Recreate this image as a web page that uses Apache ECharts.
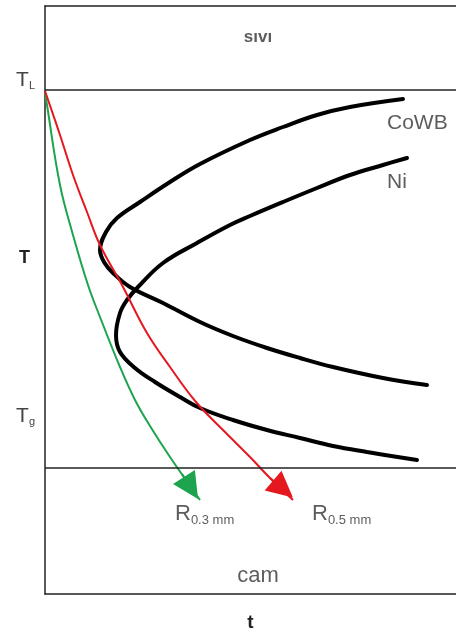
<!DOCTYPE html>
<html>
<head>
<meta charset="utf-8">
<script src="https://cdn.jsdelivr.net/npm/echarts@6/dist/echarts.min.js"></script>
<style>
  html, body { margin: 0; padding: 0; background: #fff; }
  #chart { width: 456px; height: 633px; }
</style>
</head>
<body>
<div id="chart"></div>
<script>
// ---- data (t, T) in arbitrary units ----
const cowbCurve = [
  [358,495],[305,487],[272,479],[238,467],[205,454],[155,430],[125,412],[95,392],
  [72,376],[61,362],[55,344],[59,332],[68,321],[85,307],[118,291],[155,272],
  [188,258],[222,246],[255,236],[288,227],[338,216],[382,209]
];
const niCurve = [
  [362,436],[338,429],[305,419],[272,406],[238,392],[205,378],[185,369],[152,351],
  [118,331],[93,307],[82,294],[75,281],[71,259],[75,242],[90,226],[110,212],
  [135,197],[155,186],[188,174],[222,164],[255,156],[288,148],[322,142],[372,134]
];
const coolRed = [
  [0,503],[15,459],[28,419],[42,382],[55,349],[78,307],[102,261],[125,227],
  [151,192],[180,162],[205,137],[225,116],[248,94]
];
const coolGreen = [
  [0,502],[2,489],[15,409],[28,359],[43,309],[55,277],[75,227],[90,194],
  [105,168],[125,137],[155,94]
];
const arrowRed = [[225,116],[238,105]];
const arrowGreen = [[137,120],[146,106]];

const levelTL = 504;       // liquidus line
const levelGlass = 126;    // glass boundary line
const yTickValues = [514, 336, 178];
const yTickLabels = ['T_L', 'T', 'T_g'];

const regionLabels = ['sıvı', 'cam'];
const curveLabels = ['CoWB', 'Ni'];
const rateLabels = ['0.3 mm', '0.5 mm'];
const xName = 't';

const FONT = 'Liberation Sans, Arial, sans-serif';
const RED = '#e5171f';
const GREEN = '#1ea34f';

const chart = echarts.init(document.getElementById('chart'), null, { renderer: 'canvas' });

function labelFmt(v) {
  const i = yTickValues.indexOf(v);
  const s = yTickLabels[i];
  if (s === 'T') return '{b|T}';
  const parts = s.split('_');
  return '{m|' + parts[0] + '}{s|' + parts[1] + '}';
}

const annotations = [
  { value: [213, 557], label: { formatter: regionLabels[0], fontSize: 17, fontWeight: 'bold', color: '#333', align: 'center' } },
  { value: [213, 18], label: { formatter: regionLabels[1], fontSize: 22, color: '#333', align: 'center' } },
  { value: [342, 471], label: { formatter: curveLabels[0], fontSize: 21, color: '#333', align: 'left' } },
  { value: [342, 412], label: { formatter: curveLabels[1], fontSize: 21, color: '#333', align: 'left' } },
  { value: [130, 80], label: { formatter: '{r|R}{s|' + rateLabels[0] + '}', align: 'left' } },
  { value: [267, 80], label: { formatter: '{r|R}{s|' + rateLabels[1] + '}', align: 'left' } }
];

const axisLine = { show: true, lineStyle: { color: '#222', width: 1.5 } };

chart.setOption({
  animation: false,
  backgroundColor: '#fff',
  grid: { left: 45, right: 0, top: 6, bottom: 39, containLabel: false, outerBoundsMode: 'none' },
  xAxis: [
    {
      type: 'value', min: 0, max: 411, position: 'bottom',
      axisLine: axisLine, axisTick: { show: false }, axisLabel: { show: false }, splitLine: { show: false },
      name: xName, nameLocation: 'middle', nameGap: 19,
      nameTextStyle: { fontFamily: FONT, fontSize: 19, fontWeight: 'bold', color: '#222' }
    },
    {
      type: 'value', min: 0, max: 411, position: 'top',
      axisLine: axisLine, axisTick: { show: false }, axisLabel: { show: false }, splitLine: { show: false }
    }
  ],
  yAxis: {
    type: 'value', min: 0, max: 588,
    axisLine: axisLine, axisTick: { show: false }, splitLine: { show: false },
    axisLabel: {
      show: true, customValues: yTickValues, margin: 10, formatter: labelFmt,
      rich: {
        m: { fontFamily: FONT, fontSize: 21, color: '#444' },
        s: { fontFamily: FONT, fontSize: 11, color: '#444', padding: [12, 0, 0, 0] },
        b: { fontFamily: FONT, fontSize: 18, fontWeight: 'bold', color: '#222', padding: [0, 5, 0, 0] }
      }
    }
  },
  series: [
    {
      type: 'line', data: [], xAxisIndex: 0,
      markLine: {
        silent: true, symbol: 'none', label: { show: false },
        lineStyle: { color: '#222', width: 1.5, type: 'solid' },
        data: [{ yAxis: levelTL }, { yAxis: levelGlass }]
      }
    },
    { type: 'line', data: cowbCurve, smooth: 0.4, symbol: 'none', lineStyle: { color: '#000', width: 4, cap: 'round' } },
    { type: 'line', data: niCurve, smooth: 0.4, symbol: 'none', lineStyle: { color: '#000', width: 4, cap: 'round' } },
    { type: 'line', data: coolGreen, smooth: 0.4, symbol: 'none', lineStyle: { color: GREEN, width: 2 } },
    { type: 'line', data: coolRed, smooth: 0.4, symbol: 'none', lineStyle: { color: RED, width: 2 } },
    {
      type: 'lines', coordinateSystem: 'cartesian2d', symbol: ['none', 'triangle'], symbolSize: [16, 26],
      lineStyle: { color: GREEN, width: 2, opacity: 1 },
      data: [{ coords: arrowGreen }]
    },
    {
      type: 'lines', coordinateSystem: 'cartesian2d', symbol: ['none', 'triangle'], symbolSize: [16, 26],
      lineStyle: { color: RED, width: 2, opacity: 1 },
      data: [{ coords: arrowRed }]
    },
    {
      type: 'scatter', symbolSize: 0, silent: true,
      label: {
        show: true, position: 'inside', fontFamily: FONT, color: '#333',
        rich: {
          r: { fontFamily: FONT, fontSize: 22, color: '#333' },
          s: { fontFamily: FONT, fontSize: 13, color: '#333', padding: [12, 0, 0, 0] }
        }
      },
      data: annotations
    }
  ]
});
</script>
</body>
</html>
